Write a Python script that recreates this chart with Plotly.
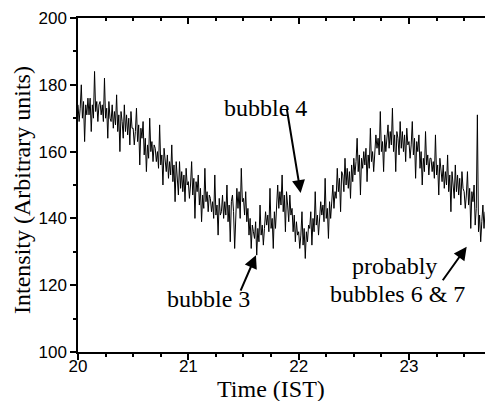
import numpy as np
import plotly.graph_objects as go

# ---- data (0.01 h sampling from 20:00 IST) ----
t_start = 20.0
t_step = 0.01
intensity = [
    174,169,173,180,170,175,163,174,171,176,
    171,176,166,174,170,184,172,175,169,174,
    175,171,174,169,182,170,173,164,175,170,
    169,174,167,172,168,177,166,171,160,172,
    169,164,174,166,171,165,170,162,172,167,
    167,162,166,173,163,168,156,167,164,169,
    159,164,154,162,158,170,160,163,157,162,
    161,157,160,155,168,156,159,150,161,156,
    154,159,152,157,153,162,151,156,145,157,
    152,147,157,149,154,148,153,145,155,150,
    151,146,150,157,147,152,140,151,148,153,
    144,149,139,147,143,155,145,148,142,147,
    146,142,145,140,153,141,144,135,146,141,
    142,147,140,145,141,150,139,144,133,145,
    147,142,131,144,149,143,148,140,155,145,
    146,141,148,139,143,135,140,131,138,136,
    134,139,129,137,133,144,135,138,132,137,
    142,138,141,136,149,137,140,131,142,137,
    145,150,143,148,144,153,142,147,136,148,
    144,139,147,141,143,136,141,133,139,135,
    136,131,135,142,132,137,128,136,133,138,
    137,142,132,140,136,148,138,141,135,140,
    145,141,144,139,152,140,143,134,145,140,
    145,150,143,148,146,155,148,152,142,154,
    153,148,158,150,155,149,154,146,156,151,
    158,153,157,164,154,159,147,158,155,160,
    156,161,151,159,155,167,157,160,154,159,
    165,161,164,159,172,160,163,154,165,160,
    163,168,161,166,162,173,160,165,154,166,
    164,159,169,161,166,160,165,157,167,162,
    163,158,162,169,159,164,152,163,160,165,
    155,160,150,158,154,166,156,159,153,158,
    158,154,157,152,165,153,156,147,158,153,
    151,156,149,154,150,159,148,153,142,154,
    151,146,156,148,153,147,152,144,154,149,
    148,143,147,154,144,149,137,148,145,150,
    138,143,171,136,141,133,139,144,137,142,
]
time_h = t_start + t_step * np.arange(len(intensity))

x_ticks = [20, 21, 22, 23]
y_ticks = [100, 120, 140, 160, 180, 200]

labels = ["bubble 4", "bubble 3", "probably", "bubbles 6 & 7"]
label_t = [21.695, 21.187, 22.873, 22.896]
label_v = [173.1, 115.9, 125.7, 117.4]
arrow_t = [22.018, 21.613, 23.523]
arrow_v = [147.6, 129.0, 131.5]

X_RANGE = [20, 23.689]
serif = "Liberation Serif"
sans = "Liberation Sans"

fig = go.Figure()
fig.add_trace(go.Scatter(x=time_h, y=intensity, mode="lines",
                         line=dict(color="black", width=1), showlegend=False,
                         hoverinfo="skip"))
fig.add_trace(go.Scatter(x=[], y=[], xaxis="x2", showlegend=False))

axis_common = dict(showline=True, linecolor="black", linewidth=1.5,
                   showgrid=False, zeroline=False, tickcolor="black",
                   tickwidth=1.5, tickfont=dict(family=sans, size=17, color="black"))

fig.update_layout(
    width=485, height=401,
    margin=dict(l=78, r=0, t=18, b=49),
    paper_bgcolor="white", plot_bgcolor="white",
    xaxis=dict(range=X_RANGE, tickvals=x_ticks, ticks="outside", ticklen=6,
               ticklabelstandoff=-8,
               minor=dict(dtick=0.25, tick0=20, ticks="outside", ticklen=3,
                          tickwidth=1.5, tickcolor="black"),
               **axis_common),
    xaxis2=dict(range=X_RANGE, overlaying="x", side="top", anchor="y",
                tickvals=x_ticks, ticks="inside", ticklen=6, showticklabels=False,
                minor=dict(dtick=0.25, tick0=20, ticks="inside", ticklen=3,
                           tickwidth=1.5, tickcolor="black"),
                **axis_common),
    yaxis=dict(range=[100, 200], tickvals=y_ticks, ticks="outside", ticklen=6,
               minor=dict(dtick=10, tick0=100, ticks="outside", ticklen=3,
                          tickwidth=1.5, tickcolor="black"),
               **axis_common),
)

ann = []
ann.append(dict(text="Intensity (Arbitrary units)", textangle=-90,
                xref="paper", yref="paper", x=0, y=0.485, xshift=-56,
                xanchor="center", yanchor="middle", showarrow=False,
                font=dict(family=serif, size=24, color="black")))
ann.append(dict(text="Time (IST)", xref="paper", yref="paper", x=0.474, y=0,
                yshift=-37, xanchor="center", yanchor="middle", showarrow=False,
                font=dict(family=serif, size=24, color="black")))
for txt, tx, ty in zip(labels, label_t, label_v):
    ann.append(dict(text=txt, x=tx, y=ty, xref="x", yref="y", showarrow=False,
                    xanchor="center", yanchor="middle",
                    font=dict(family=serif, size=24, color="black")))
for (hx, hy), (ax, ay) in zip(zip(arrow_t, arrow_v), [(-14, -85), (-16, 37), (-25, 35)]):
    ann.append(dict(text="", x=hx, y=hy, xref="x", yref="y", showarrow=True,
                    ax=ax, ay=ay, arrowhead=2, arrowsize=1.3, arrowwidth=2,
                    arrowcolor="black", standoff=0))
fig.update_layout(annotations=ann)

fig.write_html("out.html")
